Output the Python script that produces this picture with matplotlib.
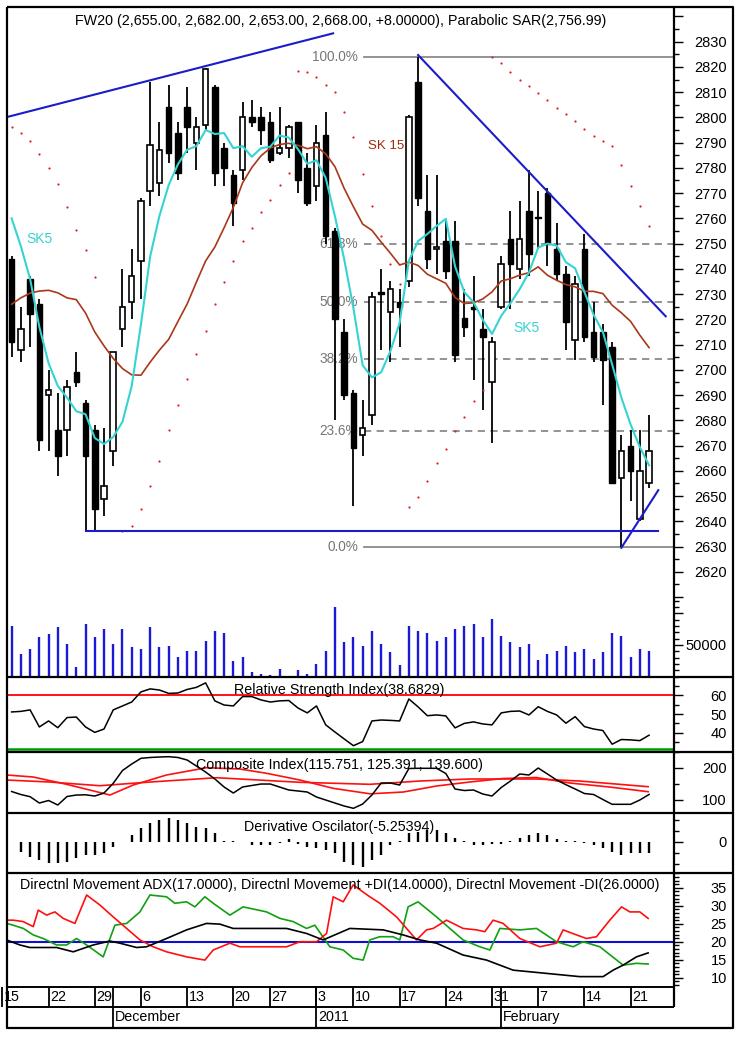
import numpy as np
import pandas as pd
import matplotlib
matplotlib.use("Agg")
import matplotlib.pyplot as plt
from matplotlib.lines import Line2D
from matplotlib.ticker import MultipleLocator

plt.rcParams['font.family'] = ['Liberation Sans', 'DejaVu Sans']

# ---- daily candles, 16 Nov 2010 .. 23 Feb 2011 (trading-day index 0..69) ----
opens = [2744, 2708, 2736, 2726, 2690, 2676, 2676, 2699, 2687, 2676,
         2649, 2668, 2716, 2727, 2743, 2771, 2774, 2804, 2794, 2804,
         2790, 2797, 2812, 2788, 2777, 2779, 2800, 2800, 2798, 2786,
         2788, 2798, 2780, 2773, 2793, 2755, 2715, 2691, 2674, 2682,
         2731, 2723, 2727, 2735, 2814, 2763, 2748, 2751, 2751, 2720.5,
         2724.5, 2716, 2695, 2725, 2752, 2740, 2763, 2760.5, 2770, 2748,
         2738, 2712, 2748, 2715, 2715, 2709, 2657, 2670, 2641, 2655]
highs = [2745, 2725, 2737, 2728, 2700, 2691, 2696, 2707, 2688, 2678,
         2677, 2707, 2740, 2748, 2768, 2814, 2798, 2813, 2798, 2812,
         2800, 2819.5, 2813, 2790, 2779, 2806, 2807, 2804, 2802, 2804,
         2797, 2798, 2786, 2797, 2802, 2756, 2720, 2692, 2688, 2731,
         2740, 2735, 2732, 2801, 2824, 2777, 2777, 2759, 2759, 2732,
         2737, 2724, 2713, 2745, 2763, 2767, 2779, 2771, 2772, 2758,
         2741, 2737, 2754, 2727, 2718, 2711, 2674, 2676, 2676, 2682]
lows = [2705, 2703, 2709, 2668, 2668, 2658, 2666, 2693, 2636, 2636,
        2642, 2662, 2709, 2720, 2728, 2765, 2769, 2782, 2775, 2786,
        2779, 2795, 2773, 2773, 2757, 2775, 2796, 2789, 2782, 2785,
        2784, 2770, 2765, 2767, 2750, 2680, 2688, 2646, 2666, 2678,
        2708, 2703, 2709, 2733, 2765, 2740, 2738, 2736, 2703, 2713,
        2696, 2684, 2671, 2724, 2724, 2736, 2737, 2748, 2741, 2735,
        2708, 2704, 2711, 2703, 2686, 2655, 2630, 2648, 2640, 2653]
closes = [2711, 2716, 2722, 2672, 2692, 2666, 2693, 2695, 2666, 2645,
          2654, 2707, 2725, 2737, 2767, 2789, 2787, 2786, 2778, 2796,
          2796, 2819, 2778, 2780, 2766, 2800, 2798, 2795, 2783, 2788,
          2796, 2775, 2766, 2790, 2753, 2720, 2690, 2669, 2677, 2729,
          2730, 2732, 2725, 2800, 2768, 2744, 2748, 2739, 2706, 2717,
          2724, 2713, 2711, 2742, 2742, 2752, 2746, 2760, 2750, 2738,
          2719, 2734, 2713, 2705, 2704, 2655, 2668, 2660, 2660, 2668]
volume = [79900, 35800, 43700, 62100, 66900, 77900, 51600, 15800, 82700, 62100,
          75300, 51600, 75300, 46400, 43700, 77900, 46400, 48900, 31100, 41000,
          41000, 56800, 72100, 69400, 25200, 31100, 7400, 4700, 2700, 12600,
          0, 10100, 4700, 20500, 41000, 110400, 54300, 62100, 48900, 72100,
          51600, 38500, 18000, 79900, 72100, 69400, 56800, 62100, 74800, 79500,
          82700, 62100, 90600, 64700, 54300, 46400, 51600, 25900, 35800, 41000,
          48900, 38500, 43700, 28400, 38500, 69400, 64700, 31100, 43700, 41000]

# moving averages: first values (window not yet full)
sk5_head = [2760, 2749, 2736, 2717]
sk15_head = [2726, 2728.5, 2730.4, 2731.2, 2731.5, 2730.5, 2728.5, 2727.8,
             2722.5, 2715, 2709.5, 2704.5, 2700.5, 2698]

nan = np.nan
sar = [2796, 2794, 2790.8, 2785.5, 2779.9, 2773.6, 2764.5, 2755.5, 2747.6, 2736.6,
       nan, nan, 2636.3, 2638.3, 2645, 2654, 2663.8, 2676, 2686, 2696.5,
       2706.4, 2715.5, 2726, 2734.9, 2743.2, 2750.9, 2756.2, 2762.5, 2767.4, 2773.3,
       2777.9, 2818.5, 2818, 2815.9, 2813, 2810.2, 2802.3, 2792.4, 2777.6, 2764.7,
       2753, 2742, 2734, 2645.6, 2649.6, 2655.9, 2663.2, 2668.7, 2675.9, 2681.2,
       2687.5, 2692.2, 2824, 2821.4, 2818.1, 2815, 2812.5, 2809.6, 2806.7, 2803.9,
       2801.3, 2798.7, 2795.5, 2792.8, 2790.8, 2788.5, 2781, 2773, 2765, 2757]

# trend lines and fibonacci retracement
trend1_x, trend1_y = [-0.54, 34.8], [2800.1, 2833.3]
trend2_x, trend2_y = [44, 70.8], [2824.7, 2721.2]
support_x, support_y = [8, 70.0], [2636.2, 2636.2]
trend4_x, trend4_y = [66, 70.0], [2629.5, 2652.3]
fib_high, fib_low = 2824, 2630
fib_ratios = [0.0, 23.6, 38.2, 50.0, 61.8, 100.0]

# indicators
rsi = [51.1, 51.4, 52.2, 43.1, 46.3, 42.7, 48.1, 48.4, 43.1, 40.2,
       42.0, 52.2, 54.3, 56.4, 61.8, 63.4, 62.8, 61.0, 61.2, 63.1,
       64.2, 66.6, 57.0, 54.8, 54.3, 59.3, 59.3, 57.5, 56.4, 57.0,
       57.2, 53.2, 50.6, 54.3, 44.2, 40.4, 36.7, 33.1, 35.3, 46.3,
       46.8, 46.6, 46.3, 58.0, 53.8, 49.1, 49.5, 49.0, 42.6, 45.0,
       45.8, 44.7, 44.2, 50.6, 51.4, 51.6, 49.5, 53.9, 51.4, 49.5,
       45.1, 48.6, 43.3, 42.0, 41.2, 33.9, 36.4, 36.2, 35.8, 38.7]
comp = [125, 115.6, 108.8, 89, 96.9, 82.8, 109.4, 114, 114.7, 110.9,
        120.3, 150.6, 190.6, 210.9, 228.8, 231.3, 232.8, 233.8, 231.3, 223.4,
        204.7, 185.9, 164.1, 139.1, 120.3, 139.1, 143.8, 148.4, 148.4, 139.1,
        129.7, 126.6, 123.4, 107.8, 98.4, 89, 79.7, 72.5, 85.9, 114,
        151.6, 151.6, 145.3, 196.9, 197.5, 197.5, 197.5, 181.3, 132.8, 128.1,
        129.7, 117.2, 110.9, 137.5, 157.8, 179.7, 176.6, 198.4, 179.7, 160.9,
        146.3, 132.8, 118.8, 115.6, 100, 85, 85, 85, 98.4, 115.8]
comp_fast_x = [-0.54, 2.34, 5.95, 10.64, 13.16, 16.77, 21.1, 24.7, 27.6, 31.2,
               34.8, 38.8, 42.4, 46.0, 49.6, 53.2, 56.8, 60.4, 64.7, 68.9]
comp_fast = [176.6, 170.3, 147.5, 114, 145.3, 176.6, 199.4, 195.3, 181.9, 160.9,
             135, 117.8, 123.4, 142.2, 154.7, 165.6, 168.8, 151.6, 139.1, 124.4]
comp_slow_x = [-0.54, 4.1, 9.56, 15.0, 22.2, 31.2, 38.8, 44.2, 49.6, 56.8, 61.5, 68.9]
comp_slow = [160.9, 154.7, 143.1, 154.7, 168.1, 153.8, 147.5, 157.8, 164.1, 164.1, 157.8, 140]
deriv = [-0.3, -4.5, -6.8, -8.3, -9.5, -9.8, -9.0, -7.5, -6.0, -6.0,
         -5.3, -2.3, -0.3, 3.0, 6.0, 8.3, 9.8, 10.5, 9.8, 8.3,
         6.8, 6.0, 3.8, 0.5, 0.2, -0.3, -1.5, -1.5, -1.5, -0.8,
         1.0, -1.2, -2.3, -3.0, -3.8, -5.3, -9.0, -10.5, -11.3, -8.3,
         -6.0, -1.5, 0.3, 3.8, 4.5, 5.3, 5.3, 3.8, 1.5, 0.2,
         -1.5, -1.5, -1.0, -1.2, 0.2, 1.5, 3.0, 3.8, 3.0, 1.0,
         0.2, 0.2, -0.8, -1.5, -3.0, -4.5, -6.0, -5.3, -5.3, -5.25]
adx_x = [-0.54, 0.9, 1.98, 4.87, 6.67, 8.83, 10.64, 11.72, 13.53, 14.61,
         16.77, 18.94, 21.1, 22.54, 23.98, 29.76, 31.93, 33.72, 36.61, 40.22,
         42.38, 44.19, 46.0, 48.87, 51.41, 54.29, 57.9, 61.5, 64.03, 65.11,
         66.19, 67.64, 68.9]
adx = [20.5, 19.1, 18.4, 18.4, 17.2, 19.1, 20.2, 19.6, 18.4, 18.6,
       20.9, 23.3, 25.1, 24.9, 23.7, 23.7, 22.3, 20.5, 23.7, 23.3,
       21.9, 20.5, 19.6, 16.3, 14.9, 12.1, 11.2, 10.3, 10.3, 12.1,
       13.5, 15.8, 16.9]
mdi_x = [-0.54, 0.17, 1.26, 2.34, 2.88, 3.79, 4.69, 5.58, 6.85, 8.12,
         9.56, 11.0, 12.45, 13.89, 15.32, 16.77, 18.94, 20.92, 21.82, 23.63,
         24.71, 29.76, 31.2, 33.01, 34.09, 34.81, 35.89, 36.97, 38.77, 39.86,
         41.67, 43.83, 44.91, 45.63, 47.08, 48.87, 50.32, 51.22, 52.12, 53.2,
         55.01, 57.18, 58.98, 59.7, 61.15, 62.23, 63.31, 64.75, 66.02, 66.92,
         68.0, 68.9]
mdi = [26, 26, 25.6, 24.2, 28.8, 27.4, 28.3, 26.5, 25.1, 33,
       30.2, 26.9, 23.7, 20.5, 18.6, 17.2, 15.8, 14.9, 17.7, 19.6,
       18.6, 18.6, 20, 20, 22.3, 32.5, 31.1, 35.8, 32.5, 30.7,
       26.9, 20.5, 23.3, 23.7, 26, 23.7, 23.3, 22.8, 26, 25.1,
       20.9, 18.6, 19.6, 23.3, 21.9, 20.9, 21.4, 26, 29.7, 28.3,
       28.3, 26.5]
pdi_x = [-0.54, 0.17, 1.26, 2.34, 3.42, 4.87, 5.95, 7.03, 8.12, 9.91,
         11.18, 12.45, 13.89, 14.97, 16.77, 17.67, 18.94, 19.84, 20.92, 21.82,
         23.63, 25.06, 27.6, 29.04, 30.48, 31.93, 32.82, 34.45, 35.89, 36.97,
         38.05, 38.77, 39.86, 41.3, 42.02, 42.92, 44.0, 46.0, 48.87, 50.68,
         51.77, 52.85, 55.01, 56.82, 58.98, 60.78, 61.86, 63.67, 66.19, 67.64,
         68.9]
pdi = [25.1, 24.6, 23.7, 21.9, 20.9, 19.1, 19.1, 20.9, 19.1, 15.8,
       24.6, 25.1, 28.3, 33, 32.5, 30.7, 31.1, 29.7, 32.5, 30.7,
       27.4, 29.7, 28.3, 26.5, 25.6, 23.7, 24.6, 18.6, 17.7, 15.4,
       14.9, 20.5, 21.4, 21.4, 20.5, 29.7, 31.1, 26.9, 20.5, 18.6,
       17.7, 23.7, 23.3, 23.7, 20, 18.6, 20, 18.6, 13.5, 14,
       13.8]

day_labels = ["15", "22", "29", "6", "13", "20", "27", "3", "10", "17", "24", "31", "7", "14", "21"]
day_slots = [-1, 4, 9, 14, 19, 24, 28, 33, 37, 42, 47, 52, 57, 62, 67]
month_labels = ["December", "2011", "February"]
month_slots = [11, 33, 53]

# ---- figure layout (pixel based) ----
W, H = 739, 1037
fig = plt.figure(figsize=(W / 100, H / 100), dpi=100)
fig.patch.set_facecolor('white')


def box(top, bottom, left=7, right=674):
    return [left / W, 1 - bottom / H, (right - left) / W, (bottom - top) / H]


def fig_line(xs, ys, lw=1.6, color='black'):
    fig.add_artist(Line2D([x / W for x in xs], [1 - y / H for y in ys], lw=lw,
                          color=color, transform=fig.transFigure, solid_capstyle='butt'))


def style(ax, ylim):
    ax.set_xlim(-0.5, 71.7)
    ax.set_ylim(*ylim)
    for s in ax.spines.values():
        s.set_visible(False)
    ax.set_facecolor('none')
    ax.tick_params(axis='x', which='both', bottom=False, labelbottom=False)
    ax.yaxis.tick_right()
    ax.tick_params(axis='y', which='major', direction='out', length=6.5, width=1,
                   pad=31.5, labelsize=10.5)
    ax.tick_params(axis='y', which='minor', direction='out', length=3.5, width=1)


def right_labels(ax, ticks, labels):
    ax.set_yticks(ticks, labels=labels)
    for t in ax.get_yticklabels():
        t.set_horizontalalignment('right')


ax_p = fig.add_axes(box(6.7, 597))
ax_v = fig.add_axes(box(597, 676.7))
ax_r = fig.add_axes(box(676.7, 751.7))
ax_c = fig.add_axes(box(751.7, 813.3))
ax_d = fig.add_axes(box(813.3, 872.7))
ax_m = fig.add_axes(box(872.7, 986.7))
ax_t = fig.add_axes(box(986.7, 1028.3))

x = np.arange(len(closes))
o, h, l, c = map(np.array, (opens, highs, lows, closes))

# ---- price panel ----
style(ax_p, (2610.25, 2843.85))
ptick = list(range(2610, 2841, 10))
right_labels(ax_p, ptick, ['' if t in (2610, 2840) else str(t) for t in ptick])
ax_p.yaxis.set_minor_locator(MultipleLocator(5))

lvl = [fib_low + r / 100 * (fib_high - fib_low) for r in fib_ratios]
for r, v in zip(fib_ratios, lvl):
    ls = '-' if r in (0.0, 100.0) else (0, (4, 3))
    ax_p.plot([38.1, 71.7], [v, v], color='#8a8a8a', lw=1.3, ls=ls, zorder=1)
    ax_p.text(37.5, v, f"{r:.1f}%", color='#777777', fontsize=9.8,
              ha='right', va='center', zorder=1)

ax_p.vlines(x, l, h, color='black', lw=1.3, zorder=2)
up = c >= o
bottom = np.minimum(o, c)
height = np.maximum(np.abs(c - o), 0.7)
ax_p.bar(x[up], height[up], bottom=bottom[up], width=0.6, facecolor='white',
         edgecolor='black', lw=1.2, zorder=3)
ax_p.bar(x[~up], height[~up], bottom=bottom[~up], width=0.6, facecolor='black',
         edgecolor='black', lw=1.0, zorder=3)

cs = pd.Series(closes, dtype=float)
sk5 = cs.rolling(5).mean().to_numpy()
sk5[:len(sk5_head)] = sk5_head
sk15 = cs.rolling(15).mean().to_numpy()
sk15[:len(sk15_head)] = sk15_head
ax_p.plot(x, sk15, color='#A8381A', lw=1.2, zorder=4)
ax_p.plot(x, sk5, color='#35D3D3', lw=1.5, zorder=4)
ax_p.plot(x, sar, ls='none', marker='o', ms=1.6, color='#E02020', mec='none', zorder=4)

for tx, ty in ((trend1_x, trend1_y), (trend2_x, trend2_y), (support_x, support_y), (trend4_x, trend4_y)):
    ax_p.plot(tx, ty, color='#1C1CC8', lw=1.5, zorder=5)

ax_p.text(1.55, 2751.8, "SK5", color='#35D3D3', fontsize=10, va='center', ha='left')
ax_p.text(54.3, 2716.6, "SK5", color='#35D3D3', fontsize=10, va='center', ha='left')
ax_p.text(38.6, 2788.8, "SK 15", color='#A02A10', fontsize=9.5, va='center', ha='left')

# ---- volume ----
style(ax_v, (0, 125700))
right_labels(ax_v, [50000, 100000], ['50000', ''])
ax_v.yaxis.set_minor_locator(MultipleLocator(10000))
ax_v.vlines(x, 0, volume, color='#1A1AD6', lw=1.7)

# ---- RSI ----
style(ax_r, (29.9, 69.9))
right_labels(ax_r, [40, 50, 60], ['40', '50', '60'])
ax_r.yaxis.set_minor_locator(MultipleLocator(5))
ax_r.axhline(60, color='#FF0000', lw=1.3)
ax_r.axhline(31.2, color='#009A00', lw=1.8)
ax_r.plot(x, rsi, color='black', lw=1.1)

# ---- composite index ----
style(ax_c, (56.9, 249.4))
right_labels(ax_c, [100, 200], ['100', '200'])
ax_c.yaxis.set_minor_locator(MultipleLocator(50))
ax_c.plot(comp_slow_x, comp_slow, color='#FF1010', lw=1.2)
ax_c.plot(comp_fast_x, comp_fast, color='#FF1010', lw=1.2)
ax_c.plot(x, comp, color='black', lw=1.1)

# ---- derivative oscillator ----
style(ax_d, (-14.0, 12.8))
right_labels(ax_d, [0], ['0'])
ax_d.set_yticks([-10, -5, 5, 10], minor=True)
ax_d.vlines(x, 0, deriv, color='black', lw=1.7)

# ---- directional movement ----
style(ax_m, (7.5, 39.2))
right_labels(ax_m, [10, 15, 20, 25, 30, 35], ['10', '15', '20', '25', '30', '35'])
ax_m.yaxis.set_minor_locator(MultipleLocator(1))
ax_m.axhline(20, color='#1010CC', lw=1.5)
ax_m.plot(pdi_x, pdi, color='#10A010', lw=1.2)
ax_m.plot(mdi_x, mdi, color='#FF1010', lw=1.2)
ax_m.plot(adx_x, adx, color='black', lw=1.2)

# ---- date rows ----
ax_t.set_xlim(-0.5, 71.7)
ax_t.set_ylim(0, 1)
ax_t.axis('off')
ax_t.vlines(day_slots, 0.52, 1, color='black', lw=1.3, clip_on=False)
ax_t.vlines(month_slots, 0, 1, color='black', lw=1.3)
for s, t in zip(day_slots, day_labels):
    ax_t.text(s + 0.15, 0.76, t, fontsize=10.3, ha='left', va='center', clip_on=False)
for s, t in zip(month_slots, month_labels):
    ax_t.text(s + 0.15, 0.26, t, fontsize=10.3, ha='left', va='center')

# ---- titles ----
fig.text(340.5 / W, 1 - 21 / H,
         "FW20 (2,655.00, 2,682.00, 2,653.00, 2,668.00, +8.00000), Parabolic SAR(2,756.99)",
         ha='center', va='center', fontsize=10.3)
fig.text(339 / W, 1 - 690 / H, "Relative Strength Index(38.6829)",
         ha='center', va='center', fontsize=10.3)
fig.text(340 / W, 1 - 765 / H, "Composite Index(115.751, 125.391, 139.600)",
         ha='center', va='center', fontsize=10.3)
fig.text(339 / W, 1 - 826.7 / H, "Derivative Oscilator(-5.25394)",
         ha='center', va='center', fontsize=10.3)
fig.text(340 / W, 1 - 885 / H,
         "Directnl Movement ADX(17.0000), Directnl Movement +DI(14.0000), Directnl Movement -DI(26.0000)",
         ha='center', va='center', fontsize=10.3)

# ---- frame lines ----
fig_line([6.7, 733, 733, 6.7, 6.7], [6.7, 6.7, 1028.3, 1028.3, 6.7], lw=1.6)
fig_line([674, 674], [6.7, 1006.7])
for yy in (676.7, 751.7, 813.3, 872.7):
    fig_line([6.7, 733], [yy, yy])
for yy in (986.7, 1006.7):
    fig_line([6.7, 674], [yy, yy], lw=1.4)

fig.savefig('out.png', dpi=100)
